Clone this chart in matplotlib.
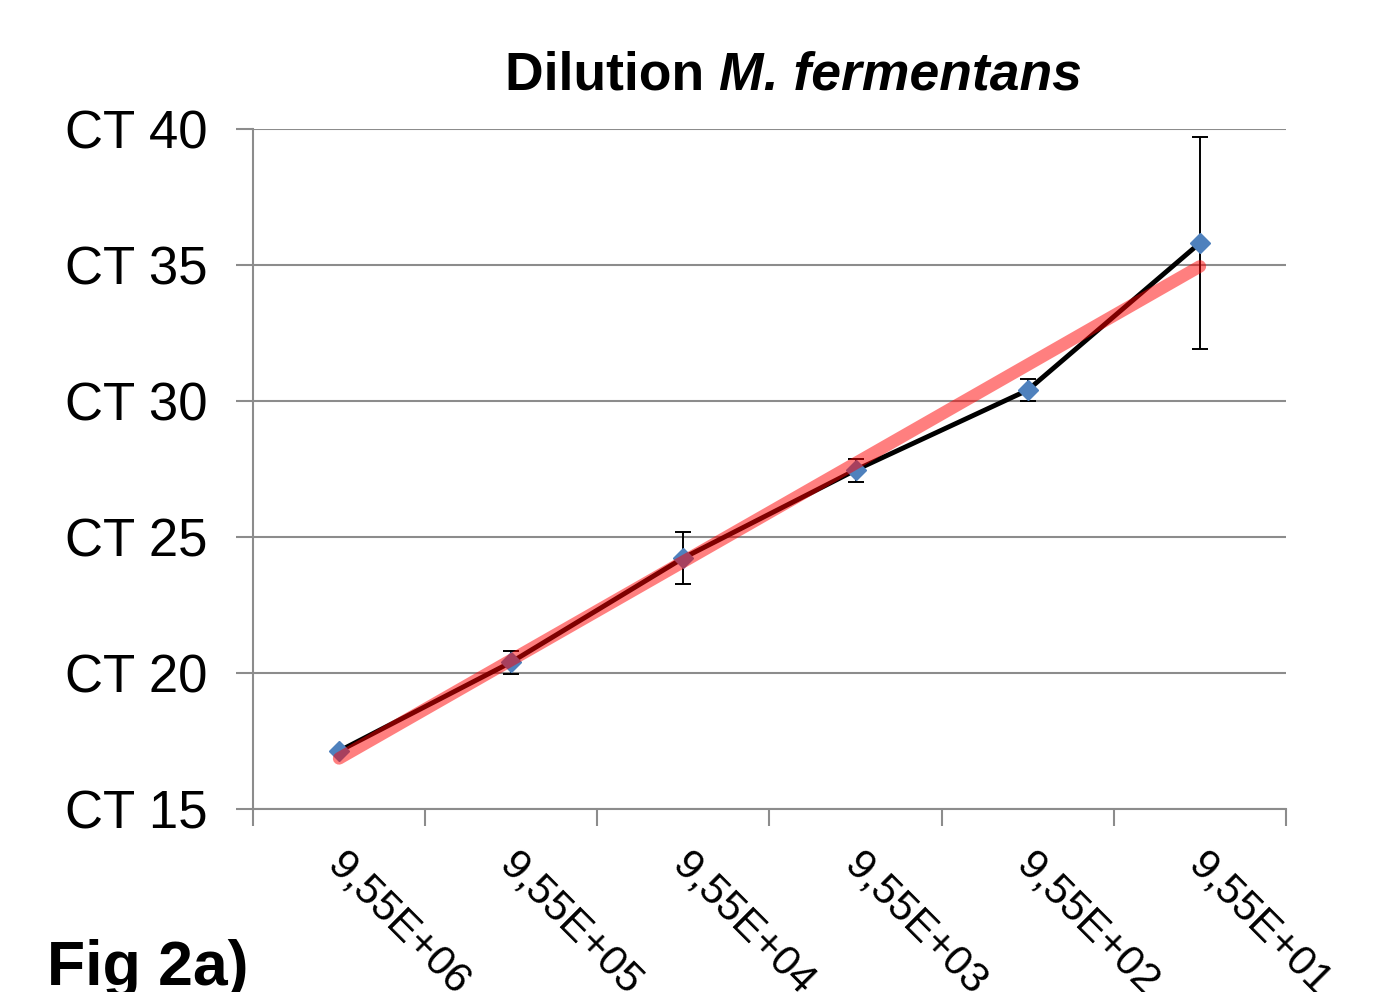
import matplotlib.pyplot as plt
import matplotlib.transforms as mtransforms
import numpy as np

plt.rcParams['font.family'] = ['Liberation Sans', 'DejaVu Sans']

# data
dilutions = ['9,55E+06', '9,55E+05', '9,55E+04', '9,55E+03', '9,55E+02', '9,55E+01']
ct_mean = [17.13, 20.40, 24.23, 27.46, 30.40, 35.81]
ct_err = [0.05, 0.42, 0.97, 0.42, 0.40, 3.88]
y_ticks = [15, 20, 25, 30, 35, 40]

x = np.arange(1, len(dilutions) + 1)

fig = plt.figure(figsize=(13.8, 9.92), dpi=100)
ax = fig.add_axes([253/1380, 1 - 809/992, (1286 - 253)/1380, (809 - 129)/992])

grey = '#8c8c8c'

# measured series with error bars
ax.errorbar(x, ct_mean, yerr=ct_err, color='black', lw=3.5, ecolor='black',
            elinewidth=1.4, capsize=6, capthick=1.4, zorder=3)
ax.plot(x, ct_mean, 'D', color='#4f81bd', ms=10, zorder=4)

# linear trendline (least squares, as in the spreadsheet)
slope, intercept = np.polyfit(x, ct_mean, 1)
ax.plot(x, slope * x + intercept, color='red', alpha=0.5, lw=9,
        solid_capstyle='round', zorder=5)

ax.set_xlim(0.5, len(dilutions) + 0.5)
ax.set_ylim(15, 40)
ax.set_yticks(y_ticks)
ax.set_yticklabels([f'CT {v}' for v in y_ticks], fontsize=38)
ax.yaxis.grid(True, color=grey, lw=1.5)
ax.set_axisbelow(True)

ax.set_xticks(np.arange(0.5, len(dilutions) + 1, 1))
ax.set_xticklabels([])
ax.set_xticks(x, minor=True)
ax.set_xticklabels(dilutions, minor=True, fontsize=30.5, rotation=-45,
                   ha='left', va='top', rotation_mode='anchor')
ax.tick_params(axis='x', which='minor', length=0, pad=26)
ax.tick_params(axis='x', which='major', length=12, width=1.5, color=grey)
ax.tick_params(axis='y', length=12, width=1.5, color=grey, pad=21)

shift = mtransforms.ScaledTranslation(9/100, 0, fig.dpi_scale_trans)
for lab in ax.get_xticklabels(minor=True):
    lab.set_transform(lab.get_transform() + shift)

for s in ['top', 'right']:
    ax.spines[s].set_visible(False)
for s in ['left', 'bottom']:
    ax.spines[s].set_color(grey)
    ax.spines[s].set_linewidth(1.5)

t1 = fig.text(505/1380, 1 - 90/992, 'Dilution ', fontsize=38.5, fontweight='bold',
              va='baseline', ha='left')
ax.annotate('M. fermentans', xy=(1, 0), xycoords=t1, fontsize=38.5,
            fontweight='bold', fontstyle='italic', va='bottom', ha='left',
            annotation_clip=False)

fig.text(47/1380, 1 - 985/992, 'Fig 2a)', fontsize=45, fontweight='bold',
         va='baseline', ha='left')

fig.savefig('out.png', dpi=100)
